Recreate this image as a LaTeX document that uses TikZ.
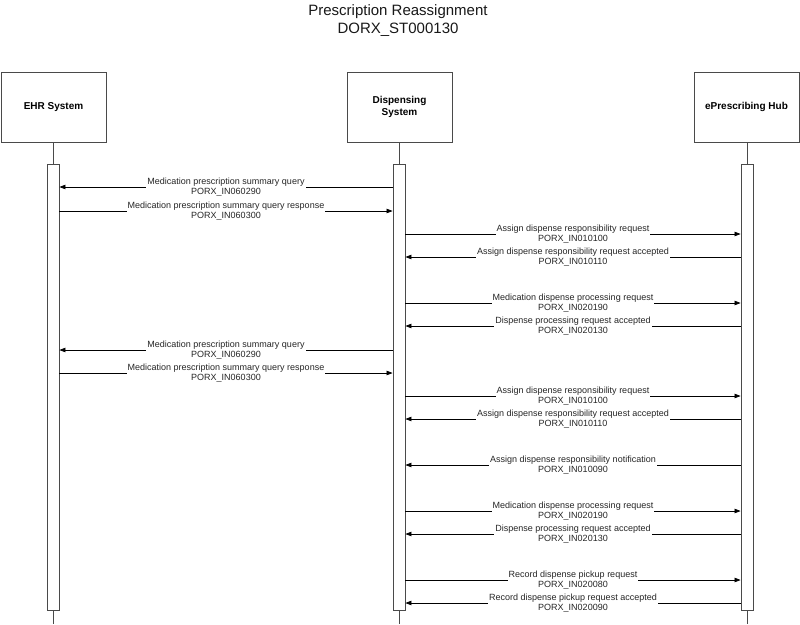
\documentclass[tikz,border=0pt]{standalone}
\usepackage{fontspec}
\setmainfont{Liberation Sans}
\usetikzlibrary{arrows.meta}
\definecolor{linegray}{HTML}{4A4A4A}
\newcommand\seqmsg[4]{\draw[msgarrow] (#1 |- 0,#3) -- node[lbl]{#4} (#2 |- 0,#3);}
\begin{document}
\begin{tikzpicture}[x=1pt,y=-1pt,
  actor/.style={draw=linegray, fill=white, line width=0.9pt, minimum width=105pt, minimum height=70pt,
    font=\fontsize{10}{12}\selectfont\bfseries, align=center, inner sep=0pt},
  actbar/.style={draw=linegray, fill=white, line width=0.9pt, minimum width=12pt, minimum height=446pt, inner sep=0pt},
  life/.style={draw=linegray, line width=0.9pt},
  msgarrow/.style={draw=black, line width=0.7pt, -{Triangle[length=6pt,width=4.5pt]}},
  lbl/.style={fill=white, inner sep=1pt, align=center, font=\fontsize{9}{10}\selectfont, text=black!85}
]
\fill[white] (0,0) rectangle (800,624);
\useasboundingbox (0,0) rectangle (800,624);

\node[font=\fontsize{15}{18}\selectfont, align=center, text=black!90] (title) at (398,21)
  {Prescription Reassignment\\DORX\_ST000130};

% actors
\node[actor] (ehr) at (53.5,107) {EHR System};
\node[actor] (disp) at (399.5,107) {Dispensing\\System};
\node[actor] (hub) at (746.5,107) {ePrescribing Hub};

% lifeline ends
\coordinate (ehrend) at (53,624);
\coordinate (dispend) at (399,624);
\coordinate (hubend) at (747,624);
\draw[life] (ehr.south -| ehrend) -- (ehrend);
\draw[life] (disp.south -| dispend) -- (dispend);
\draw[life] (hub.south -| hubend) -- (hubend);

% activation bars
\node[actbar] (ebar) at (53,387) {};
\node[actbar] (dbar) at (399,387) {};
\node[actbar] (hbar) at (747,387) {};

% messages
\seqmsg{dbar.west}{ebar.east}{187}{Medication prescription summary query\\PORX\_IN060290}
\seqmsg{ebar.east}{dbar.west}{211}{Medication prescription summary query response\\PORX\_IN060300}
\seqmsg{dbar.east}{hbar.west}{234}{Assign dispense responsibility request\\PORX\_IN010100}
\seqmsg{hbar.west}{dbar.east}{257}{Assign dispense responsibility request accepted\\PORX\_IN010110}
\seqmsg{dbar.east}{hbar.west}{303}{Medication dispense processing request\\PORX\_IN020190}
\seqmsg{hbar.west}{dbar.east}{326}{Dispense processing request accepted\\PORX\_IN020130}
\seqmsg{dbar.west}{ebar.east}{350}{Medication prescription summary query\\PORX\_IN060290}
\seqmsg{ebar.east}{dbar.west}{373}{Medication prescription summary query response\\PORX\_IN060300}
\seqmsg{dbar.east}{hbar.west}{396}{Assign dispense responsibility request\\PORX\_IN010100}
\seqmsg{hbar.west}{dbar.east}{419}{Assign dispense responsibility request accepted\\PORX\_IN010110}
\seqmsg{hbar.west}{dbar.east}{465}{Assign dispense responsibility notification\\PORX\_IN010090}
\seqmsg{dbar.east}{hbar.west}{511}{Medication dispense processing request\\PORX\_IN020190}
\seqmsg{hbar.west}{dbar.east}{534}{Dispense processing request accepted\\PORX\_IN020130}
\seqmsg{dbar.east}{hbar.west}{580}{Record dispense pickup request\\PORX\_IN020080}
\seqmsg{hbar.west}{dbar.east}{603}{Record dispense pickup request accepted\\PORX\_IN020090}
\end{tikzpicture}
\end{document}
